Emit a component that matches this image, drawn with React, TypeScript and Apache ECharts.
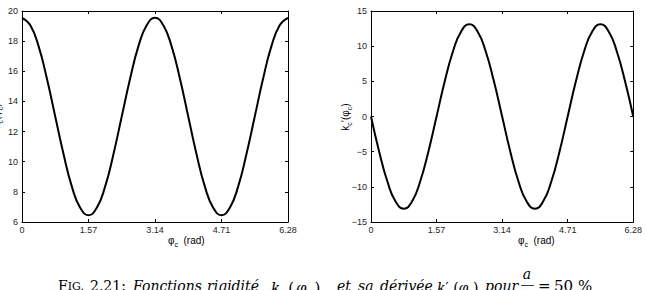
import React, { useEffect, useRef } from "react";
import * as echarts from "echarts";

// phi_c (rad) sample positions read along the x axis
const phiValues = [
  0, 0.196, 0.393, 0.589, 0.785, 0.982, 1.178, 1.374, 1.571, 1.767, 1.963,
  2.16, 2.356, 2.553, 2.749, 2.945, 3.142, 3.338, 3.534, 3.731, 3.927, 4.123,
  4.32, 4.516, 4.712, 4.909, 5.105, 5.301, 5.498, 5.694, 5.89, 6.087, 6.283,
];
// k_c(phi_c), left panel
const kValues = [
  19.55, 19.05, 17.65, 15.5, 13.0, 10.5, 8.35, 6.95, 6.45, 6.95, 8.35, 10.5,
  13.0, 15.5, 17.65, 19.05, 19.55, 19.05, 17.65, 15.5, 13.0, 10.5, 8.35, 6.95,
  6.45, 6.95, 8.35, 10.5, 13.0, 15.5, 17.65, 19.05, 19.55,
];
// k'_c(phi_c), right panel
const dkValues = [
  0, -5.0, -9.25, -12.1, -13.1, -12.1, -9.25, -5.0, 0, 5.0, 9.25, 12.1, 13.1,
  12.1, 9.25, 5.0, 0, -5.0, -9.25, -12.1, -13.1, -12.1, -9.25, -5.0, 0, 5.0,
  9.25, 12.1, 13.1, 12.1, 9.25, 5.0, 0,
];
const xTickValues = [0, 1.5708, 3.1416, 4.7124, 6.2832];
const xTickLabels = ["0", "1.57", "3.14", "4.71", "6.28"];
const kAxis = { min: 6, max: 20, interval: 2 };
const dkAxis = { min: -15, max: 15, interval: 5 };

const SANS = "Liberation Sans";
const SERIF = "DejaVu Serif";

const xFmt = (v: number) => {
  let best = 0;
  xTickValues.forEach((t, i) => {
    if (Math.abs(t - v) < Math.abs(xTickValues[best] - v)) best = i;
  });
  return xTickLabels[best];
};
const yFmt = (v: number) => (v < 0 ? "\u2212" + Math.abs(v) : String(v));

const grids = [
  { left: 22, top: 11, width: 266, height: 211 },
  { left: 371, top: 11, width: 267, height: 211 },
];

function xAxes(gi: number) {
  const base = {
    gridIndex: gi,
    type: "value" as const,
    min: xTickValues[0],
    max: xTickValues[xTickValues.length - 1],
    interval: xTickValues[1],
    axisLine: { show: true, onZero: false, lineStyle: { color: "#000", width: 1 } },
    axisTick: { show: true, inside: true, length: 3, lineStyle: { color: "#000", width: 1 } },
    splitLine: { show: false },
  };
  return [
    {
      ...base,
      position: "bottom",
      axisLabel: { fontSize: 9, color: "#262626", fontFamily: SANS, margin: 3, formatter: xFmt, showMaxLabel: true },
    },
    { ...base, position: "top", axisLabel: { show: false } },
  ];
}
function yAxes(gi: number, ax: { min: number; max: number; interval: number }) {
  const base = {
    gridIndex: gi,
    type: "value" as const,
    min: ax.min,
    max: ax.max,
    interval: ax.interval,
    axisLine: { show: true, onZero: false, lineStyle: { color: "#000", width: 1 } },
    axisTick: { show: true, inside: true, length: 3, lineStyle: { color: "#000", width: 1 } },
    splitLine: { show: false },
  };
  return [
    {
      ...base,
      position: "left",
      axisLabel: { fontSize: 9, color: "#262626", fontFamily: SANS, margin: 4, formatter: yFmt },
    },
    { ...base, position: "right", axisLabel: { show: false } },
  ];
}

const subRich = {
  b: { fontSize: 10, fontFamily: SANS, color: "#222", lineHeight: 14 },
  s: { fontSize: 7, fontFamily: SANS, color: "#222", lineHeight: 15, verticalAlign: "bottom" },
};
const capRich = {
  i: { fontSize: 14, fontFamily: SERIF, fontStyle: "italic", color: "#111", lineHeight: 18 },
  m: { fontSize: 15, fontFamily: SERIF, fontStyle: "italic", color: "#111", lineHeight: 18, padding: [0, 1, 0, 1] },
  u: { fontSize: 14, fontFamily: SERIF, color: "#111", lineHeight: 18 },
  p: { fontSize: 15, fontFamily: SERIF, color: "#111", lineHeight: 18, padding: [0, 1, 0, 1] },
  U: { fontSize: 15, fontFamily: SERIF, color: "#111", lineHeight: 18 },
  sc: { fontSize: 11, fontFamily: SERIF, color: "#111", lineHeight: 18 },
  s: { fontSize: 9, fontFamily: SERIF, fontStyle: "italic", color: "#111", lineHeight: 21, verticalAlign: "bottom", padding: [0, 1, 0, 0] },
  t: { fontSize: 8, fontFamily: SERIF, fontStyle: "italic", color: "#111", lineHeight: 21, verticalAlign: "bottom" },
};

export default function App() {
  const ref = useRef<HTMLDivElement>(null);
  useEffect(() => {
    if (!ref.current) return;
    const chart = echarts.init(ref.current, undefined, { renderer: "svg" });
    const capY = 277;
    const cap = (x: number, text: string, extra: any = {}) => ({
      type: "text",
      x,
      y: capY,
      style: { text, rich: capRich, ...extra },
    });
    chart.setOption({
      animation: false,
      backgroundColor: "#fff",
      grid: grids,
      xAxis: [...xAxes(0), ...xAxes(1)],
      yAxis: [...yAxes(0, kAxis), ...yAxes(1, dkAxis)],
      series: [
        {
          type: "line",
          xAxisIndex: 0,
          yAxisIndex: 0,
          data: phiValues.map((x, i) => [x, kValues[i]]),
          showSymbol: false,
          smooth: 0.5,
          lineStyle: { color: "#000", width: 2 },
        },
        {
          type: "line",
          xAxisIndex: 2,
          yAxisIndex: 2,
          data: phiValues.map((x, i) => [x, dkValues[i]]),
          showSymbol: false,
          smooth: 0.5,
          lineStyle: { color: "#000", width: 2 },
        },
      ],
      graphic: [
        { type: "text", x: 168, y: 233, style: { text: "{b|\u03c6}{s|c}{b|  (rad)}", rich: subRich } },
        { type: "text", x: 518, y: 233, style: { text: "{b|\u03c6}{s|c}{b|  (rad)}", rich: subRich } },
        {
          type: "text", x: -4, y: 116, rotation: Math.PI / 2,
          style: { text: "{b|k}{s|c}{b|(\u03c6}{s|c}{b|)}", rich: subRich, align: "center", verticalAlign: "middle" },
        },
        {
          type: "text", x: 345, y: 117, rotation: Math.PI / 2,
          style: { text: "{b|k}{s|c}{b|\u2019(\u03c6}{s|c}{b|)}", rich: subRich, align: "center", verticalAlign: "middle" },
        },
        // caption
        cap(84, "{u|F}{sc|IG.}", { align: "right" }),
        cap(90, "{u|2.21:}"),
        cap(133, "{i|Fonctions}"),
        cap(207, "{i|rigidit\u00e9}"),
        cap(270, "{m|k}{s|c}{p|(}{m|\u03c6}{s|c}{p|)}"),
        cap(337, "{i|et}"),
        cap(358, "{i|sa}"),
        cap(380, "{i|d\u00e9riv\u00e9e}"),
        cap(437, "{i|k}{u|\u2032}{t|c}{u|(}{i|\u03c6}{t|c}{u|)}"),
        cap(485, "{i|pour}"),
        { type: "text", x: 527, y: 265, style: { text: "{i|a}", rich: capRich, align: "center" } },
        { type: "line", shape: { x1: 521, y1: 285.5, x2: 534, y2: 285.5 }, style: { stroke: "#111", lineWidth: 0.8 } },
        cap(538, "{U|=}"),
        cap(554, "{U|50}"),
        cap(578, "{U|%}"),
      ],
    });
    return () => chart.dispose();
  }, []);
  return (
    <div
      ref={ref}
      style={{ position: "absolute", left: 0, top: 0, width: 645, height: 290, background: "#fff" }}
    />
  );
}
